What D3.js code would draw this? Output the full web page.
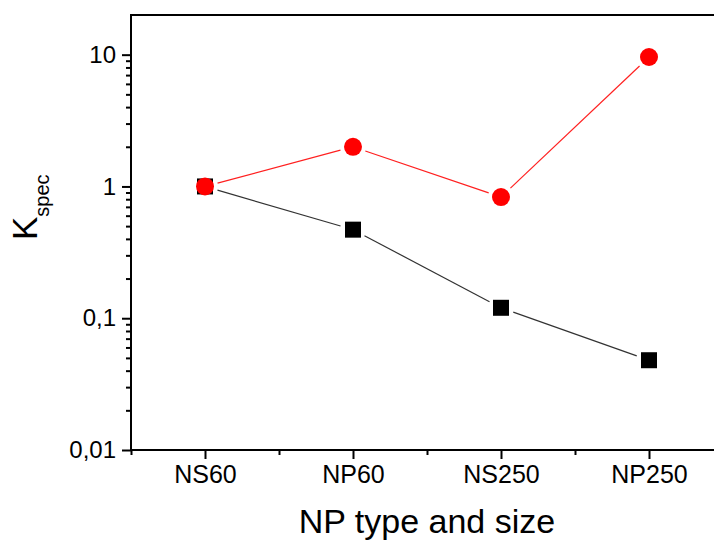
<!DOCTYPE html>
<html>
<head>
<meta charset="utf-8">
<script src="https://cdn.jsdelivr.net/npm/d3@7"></script>
<style>
  body { margin: 0; background: #fff; }
  svg { display: block; font-family: "Liberation Sans", Arial, sans-serif; }
</style>
</head>
<body>
<svg id="chart" width="714" height="544"></svg>
<script>
// chart values
var Categories = ["NS60", "NP60", "NS250", "NP250"];
var BlackValues = [1, 0.47, 0.12, 0.048];
var RedValues = [1, 2.0, 0.83, 9.6];
var YTickValues = [0.01, 0.1, 1, 10];
var YTickLabels = ["0,01", "0,1", "1", "10"];

function DrawChart() {
    var svg = d3.select("#chart");

    var plot = {left: 131, right: 723, top: 15, bottom: 450};

    // scales
    var xScale = d3.scaleLinear().domain([0.5, Categories.length + 0.5]).range([plot.left, plot.right]);
    var yScale = d3.scaleLog().domain([0.01, 20]).range([plot.bottom, plot.top]);

    // minor y ticks (2..9 of each decade)
    var minorY = [];
    YTickValues.forEach(function(d) {
        for (var k = 2; k <= 9; k++) {
            if (d * k < 20) minorY.push(d * k);
        }
    });

    // Y axis
    var yAxis = svg.append("g")
        .attr("transform", "translate(" + plot.left + ",0)")
        .call(d3.axisLeft(yScale)
            .tickValues(YTickValues)
            .tickFormat(function(d, i) { return YTickLabels[i]; })
            .tickSize(9)
            .tickPadding(6));
    yAxis.select(".domain").remove();
    yAxis.selectAll("line").attr("stroke", "#000").attr("stroke-width", 2);
    yAxis.selectAll("text").attr("font-size", 24).attr("fill", "#000")
        .attr("font-family", "Liberation Sans, Arial, sans-serif");

    var yMinor = svg.append("g")
        .attr("transform", "translate(" + plot.left + ",0)")
        .call(d3.axisLeft(yScale).tickValues(minorY).tickFormat("").tickSize(5));
    yMinor.select(".domain").remove();
    yMinor.selectAll("line").attr("stroke", "#000").attr("stroke-width", 2);

    // X axis
    var xAxis = svg.append("g")
        .attr("transform", "translate(0," + plot.bottom + ")")
        .call(d3.axisBottom(xScale)
            .tickValues(d3.range(1, Categories.length + 1))
            .tickFormat(function(d) { return Categories[d - 1]; })
            .tickSize(9)
            .tickPadding(6));
    xAxis.select(".domain").remove();
    xAxis.selectAll("line").attr("stroke", "#000").attr("stroke-width", 2);
    xAxis.selectAll("text").attr("font-size", 25).attr("fill", "#000")
        .attr("font-family", "Liberation Sans, Arial, sans-serif");

    var xMinor = svg.append("g")
        .attr("transform", "translate(0," + plot.bottom + ")")
        .call(d3.axisBottom(xScale)
            .tickValues(d3.range(0.5, Categories.length + 1, 1))
            .tickFormat("").tickSize(5));
    xMinor.select(".domain").remove();
    xMinor.selectAll("line").attr("stroke", "#000").attr("stroke-width", 2);

    // frame: left, bottom, top
    svg.append("path")
        .attr("d", "M" + plot.right + "," + plot.top + "H" + plot.left + "V" + plot.bottom + "H" + plot.right)
        .attr("fill", "none")
        .attr("stroke", "#000")
        .attr("stroke-width", 2);

    // connecting lines, stopped short of the markers
    function drawSegments(values, color, gap) {
        for (var i = 0; i < values.length - 1; i++) {
            var x1 = xScale(i + 1), y1 = yScale(values[i]);
            var x2 = xScale(i + 2), y2 = yScale(values[i + 1]);
            var len = Math.sqrt((x2 - x1) * (x2 - x1) + (y2 - y1) * (y2 - y1));
            var ux = (x2 - x1) / len, uy = (y2 - y1) / len;
            svg.append("line")
                .attr("x1", x1 + ux * gap).attr("y1", y1 + uy * gap)
                .attr("x2", x2 - ux * gap).attr("y2", y2 - uy * gap)
                .attr("stroke", color)
                .attr("stroke-width", 1.2);
        }
    }
    drawSegments(BlackValues, "#333", 13);
    drawSegments(RedValues, "#ff2020", 13);

    // squares
    svg.append("g").selectAll("rect").data(BlackValues).enter()
        .append("rect")
        .attr("x", function(d, i) { return xScale(i + 1) - 8; })
        .attr("y", function(d) { return yScale(d) - 8; })
        .attr("width", 16)
        .attr("height", 16)
        .attr("fill", "#000");

    // circles
    svg.append("g").selectAll("circle").data(RedValues).enter()
        .append("circle")
        .attr("cx", function(d, i) { return xScale(i + 1); })
        .attr("cy", function(d) { return yScale(d); })
        .attr("r", 9)
        .attr("fill", "#ff0000");

    // axis titles
    svg.append("text")
        .attr("x", (plot.left + plot.right) / 2)
        .attr("y", 533)
        .attr("text-anchor", "middle")
        .attr("font-size", 34)
        .attr("fill", "#000")
        .text("NP type and size");

    var yl = svg.append("text")
        .attr("transform", "translate(37,240) rotate(-90)")
        .attr("text-anchor", "start")
        .attr("font-size", 35)
        .attr("fill", "#000");
    yl.append("tspan").text("K");
    yl.append("tspan").attr("font-size", 20).attr("dy", 12).text("spec");
}

DrawChart();
</script>
</body>
</html>
